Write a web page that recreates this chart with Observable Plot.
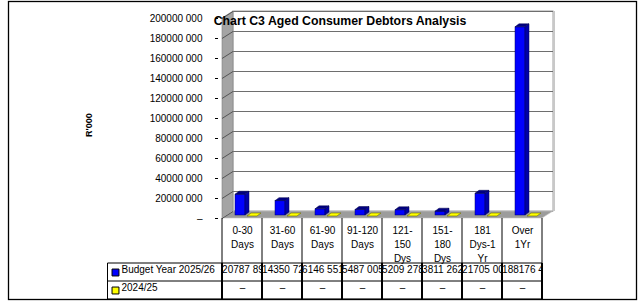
<!DOCTYPE html>
<html><head><meta charset="utf-8">
<script src="https://cdn.jsdelivr.net/npm/d3@7"></script>
<script src="https://cdn.jsdelivr.net/npm/@observablehq/plot@0.6"></script>
<style>
body{margin:0;background:#fff}
svg{font-family:"Liberation Sans",Arial,sans-serif}
</style>
</head><body><div id="chart"></div>
<script>
// ---- data ----
const categories = ["0-30\nDays","31-60\nDays","61-90\nDays","91-120\nDays","121-\n150\nDys","151-\n180\nDys","181\nDys-1\nYr","Over\n1Yr"];
const budget2025 = [20787891, 14350726, 6146551, 5487005, 5209278, 3811262, 21705003, 188176412];
const prior2024 = [0, 0, 0, 0, 0, 0, 0, 0];
const seriesNames = ["Budget Year 2025/26", "2024/25"];
const seriesColors = ["#0000FF", "#FFFF00"];
const yTicks = [0, 20000000, 40000000, 60000000, 80000000, 100000000, 120000000, 140000000, 160000000, 180000000, 200000000];
const chartTitle = "Chart C3 Aged Consumer Debtors Analysis";
const yLabel = "R'000";

const fmt = v => v === 0 ? "\u2013" : Math.floor(v / 1000) + " " + String(v % 1000).padStart(3, "0");
const rows = categories.map((c, i) => ({cat: c, budget: budget2025[i], prior: prior2024[i]}));

const W = 643, H = 302;
const DX = 11, DY = -7;        // wall depth
const BDX = 4, BDY = -3;       // bar depth
const VAL_DX = -20.4, VAL_DY = 54, PRI_DY = 72;

const plot = Plot.plot({
  width: W, height: H,
  marginLeft: 218, marginRight: 98, marginTop: 18, marginBottom: 84,
  style: {fontFamily: "Liberation Sans, Arial, sans-serif", fontSize: "10px", background: "transparent"},
  x: {domain: categories, padding: 0, axis: null},
  y: {domain: [0, 200000000], axis: null},
  marks: [
    Plot.axisY({ticks: yTicks, tickFormat: fmt, tickSize: 3, tickPadding: 13, fontSize: 10, label: null}),
    Plot.barY(rows, {x: "cat", y: "budget", fill: seriesColors[0], insetLeft: 13, insetRight: 17, dy: BDY, stroke: "#000060", strokeWidth: 0.5}),
    Plot.text(rows, {x: "cat", text: "cat", frameAnchor: "bottom", lineAnchor: "top", dy: 5.4, lineHeight: 1.4, fontSize: 10}),
    Plot.text(rows, {x: "cat", text: d => fmt(d.budget), frameAnchor: "bottom", textAnchor: "start", dx: VAL_DX, dy: VAL_DY, fontSize: 10}),
    Plot.text(rows, {x: "cat", text: d => fmt(d.prior), frameAnchor: "bottom", dy: PRI_DY, fontSize: 10}),
    Plot.text([seriesNames[0]], {frameAnchor: "bottom-left", textAnchor: "start", dx: -97, dy: VAL_DY, fontSize: 10}),
    Plot.text([seriesNames[1]], {frameAnchor: "bottom-left", textAnchor: "start", dx: -97, dy: PRI_DY, fontSize: 10}),
    Plot.dot([0], {frameAnchor: "bottom-left", dx: -103, dy: VAL_DY, symbol: "square", r: 3.9, fill: seriesColors[0], stroke: "#000", strokeWidth: 1}),
    Plot.dot([0], {frameAnchor: "bottom-left", dx: -103, dy: PRI_DY, symbol: "square", r: 3.9, fill: seriesColors[1], stroke: "#000", strokeWidth: 1}),
    Plot.text([chartTitle], {frameAnchor: "top", dx: -42, dy: -2.5, fontWeight: "bold", fontSize: 12.3}),
    Plot.text([yLabel], {frameAnchor: "left", dx: -129, dy: 18.5, rotate: -90, fontWeight: "bold", fontSize: 9})
  ]
});
document.getElementById("chart").appendChild(plot);

const svg = d3.select(plot);
const sx = plot.scale("x"), sy = plot.scale("y");
const bw = sx.bandwidth;
const X = c => sx.apply(c);
const Y = v => sy.apply(v);
const X0 = X(categories[0]), X1 = X(categories[categories.length - 1]) + bw;
const Y0 = Y(0), YT = Y(200000000);
const pts = a => a.map(p => p.join(",")).join(" ");

// ---- background 3D walls ----
const bg = svg.insert("g", ":first-child");
bg.append("rect").attr("x", 8.5).attr("y", 1.5).attr("width", 628).attr("height", 298)
  .attr("fill", "#fff").attr("stroke", "#000").attr("stroke-width", 1.3);
bg.append("rect").attr("x", X0 + DX).attr("y", YT + DY).attr("width", X1 - X0).attr("height", Y0 - YT)
  .attr("fill", "#fff").attr("stroke", "#a0a0a0").attr("stroke-width", 1);
bg.append("line").attr("x1", X1 + DX + 1).attr("x2", X1 + DX + 1).attr("y1", YT + DY).attr("y2", Y0 + DY)
  .attr("stroke", "#c8c8c8").attr("stroke-width", 2);
yTicks.forEach(t => {
  bg.append("line").attr("x1", X0 + DX).attr("x2", X1 + DX).attr("y1", Y(t) + DY + 0.5).attr("y2", Y(t) + DY + 0.5)
    .attr("stroke", "#6e6e6e").attr("stroke-width", 1);
});
bg.append("polygon").attr("points", pts([[X0, Y0], [X0, YT], [X0 + DX, YT + DY], [X0 + DX, Y0 + DY]]))
  .attr("fill", "#a4a4a4").attr("stroke", "#808080").attr("stroke-width", 0.6);
bg.append("polygon").attr("points", pts([[X0, Y0], [X1, Y0], [X1 + DX, Y0 + DY], [X0 + DX, Y0 + DY]]))
  .attr("fill", "#9c9c9c").attr("stroke", "#c8c8c8").attr("stroke-width", 0.6);
yTicks.forEach(t => {
  bg.append("line").attr("x1", X0).attr("x2", X0 + DX).attr("y1", Y(t) + 0.5).attr("y2", Y(t) + DY + 0.5)
    .attr("stroke", "#555").attr("stroke-width", 1);
});

// ---- 3D bar faces ----
const fg = svg.append("g");
rows.forEach(r => {
  const xl = X(r.cat) + 13, xr = X(r.cat) + bw - 17;
  const yt = Y(r.budget) + BDY, yb = Y(0) + BDY;
  fg.append("polygon").attr("points", pts([[xr, yt], [xr, yb], [xr + BDX, yb + BDY], [xr + BDX, yt + BDY]]))
    .attr("fill", "#0000a8").attr("stroke", "#000050").attr("stroke-width", 0.5);
  fg.append("polygon").attr("points", pts([[xl, yt], [xr, yt], [xr + BDX, yt + BDY], [xl + BDX, yt + BDY]]))
    .attr("fill", "#000080").attr("stroke", "#000050").attr("stroke-width", 0.5);
  const pl = X(r.cat) + 25, pr = X(r.cat) + bw - 5;
  const pt = Y(r.prior) + BDY + 1;
  fg.append("polygon").attr("points", pts([[pl, pt], [pr, pt], [pr + BDX, pt + BDY], [pl + BDX, pt + BDY]]))
    .attr("fill", seriesColors[1]).attr("stroke", "#6b6b00").attr("stroke-width", 0.6);
});

// ---- data table grid ----
const tb = svg.append("g").attr("stroke", "#000").attr("fill", "none");
const R1 = 263, R2 = 281, R3 = 299, LX = 107.5;
const bounds = categories.map(c => X(c)).concat([X1]);
bounds.forEach(b => {
  tb.append("line").attr("x1", b).attr("x2", b).attr("y1", Y0).attr("y2", R1).attr("stroke-width", 1);
  tb.append("line").attr("x1", b).attr("x2", b).attr("y1", R1).attr("y2", R3).attr("stroke-width", 2);
});
[R1, R2, R3].forEach(y => {
  tb.append("line").attr("x1", LX).attr("x2", X1).attr("y1", y).attr("y2", y).attr("stroke-width", 1);
});
tb.append("line").attr("x1", LX).attr("x2", LX).attr("y1", R1).attr("y2", R3).attr("stroke-width", 1);

// clip each data value to its own cell (as the spreadsheet table does)
const defs = svg.append("defs");
const valueStrings = budget2025.map(fmt);
const svgCTM = plot.getScreenCTM ? plot.getScreenCTM() : null;
svg.selectAll("text").nodes().forEach(node => {
  const i = valueStrings.indexOf(node.textContent);
  if (i < 0) return;
  const parent = node.parentNode;
  const wrap = document.createElementNS("http://www.w3.org/2000/svg", "g");
  wrap.setAttribute("clip-path", "url(#cell" + i + ")");
  parent.insertBefore(wrap, node);
  wrap.appendChild(node);
  // convert the cell's SVG-space rectangle into the wrapper's user space
  let ox = 0, oy = 0, k = 1;
  const m = wrap.getScreenCTM();
  if (m && svgCTM) { ox = (m.e - svgCTM.e) / svgCTM.a; oy = (m.f - svgCTM.f) / svgCTM.d; k = m.a / svgCTM.a; }
  defs.append("clipPath").attr("id", "cell" + i).append("rect")
    .attr("x", (X(categories[i]) - ox) / k).attr("y", (R1 - oy) / k)
    .attr("width", (bw - 0.5) / k).attr("height", (R2 - R1) / k);
});
</script>
</body></html>
